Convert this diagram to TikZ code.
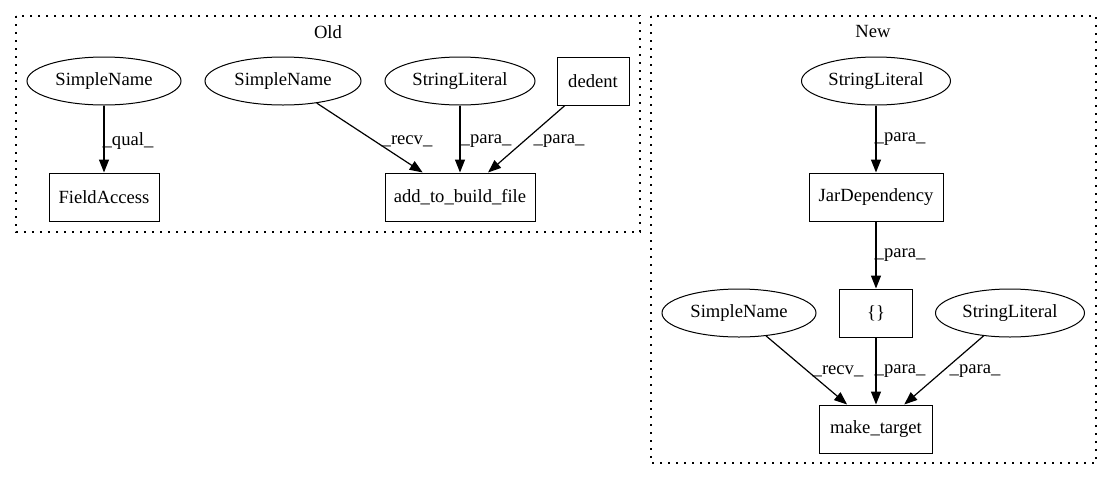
\documentclass[tikz,border=0pt]{standalone}
\usepackage{fontspec}
\setmainfont{Liberation Serif}
\usetikzlibrary{shapes.geometric,arrows.meta}
\begin{document}
\begin{tikzpicture}[x=1pt,y=-1pt,
  every node/.style={font=\fontsize{18.6}{22}\selectfont},
  ell/.style={ellipse,draw,line width=1pt,fill=white,minimum height=48pt,inner sep=0pt},
  box/.style={rectangle,draw,line width=1pt,fill=white,minimum height=48pt,inner sep=0pt},
  edge/.style={draw,line width=1.2pt,-{Triangle[length=13pt,width=10pt]}},
  lbl/.style={inner sep=0pt},
  cluster/.style={draw,line width=1.1pt,dash pattern=on 1.6pt off 6.4pt},
  ttl/.style={inner sep=0pt}]
\useasboundingbox (0,0) rectangle (1112,480);
% clusters
\draw[cluster] (16,16) rectangle (640,232);
\node[ttl] (oldt) at (328,32) {Old};
\draw[cluster] (651,16) rectangle (1096,463);
\node[ttl] (newt) at (873,31) {New};
% Old nodes
\node[ell,minimum width=154pt] (sn1) at (104,81) {SimpleName};
\node[box,minimum width=110pt] (fa) at (104,197) {FieldAccess};
\node[ell,minimum width=156pt] (sn2) at (283,81) {SimpleName};
\node[ell,minimum width=150pt] (sl1) at (460,81) {StringLiteral};
\node[box,minimum width=72pt] (ded) at (593,81) {dedent};
\node[box,minimum width=150pt] (atb) at (460,197) {add\_to\_build\_file};
% New nodes
\node[ell,minimum width=149pt] (sl2) at (876,81) {StringLiteral};
\node[box,minimum width=134pt] (jar) at (876,197) {JarDependency};
\node[box,minimum width=73pt] (br) at (876,313) {\{\}};
\node[ell,minimum width=154pt] (sn3) at (739,313) {SimpleName};
\node[ell,minimum width=149pt] (sl3) at (1010,313) {StringLiteral};
\node[box,minimum width=113pt] (mt) at (876,429) {make\_target};
% Old edges
\draw[edge] (sn1) -- (fa);
\draw[edge] (sn2) -- (atb);
\draw[edge] (sl1) -- (atb);
\draw[edge] (ded) -- (atb);
\node[lbl] (l1) at (128,141) {\_qual\_};
\node[lbl] (l2) at (407,141) {\_recv\_};
\node[lbl] (l3) at (486,141) {\_para\_};
\node[lbl] (l4) at (559,141) {\_para\_};
% New edges
\draw[edge] (sl2) -- (jar);
\draw[edge] (jar) -- (br);
\draw[edge] (sn3) -- (mt);
\draw[edge] (br) -- (mt);
\draw[edge] (sl3) -- (mt);
\node[lbl] (l5) at (900,139) {\_para\_};
\node[lbl] (l6) at (900,255) {\_para\_};
\node[lbl] (l7) at (838,371) {\_recv\_};
\node[lbl] (l8) at (900,371) {\_para\_};
\node[lbl] (l9) at (975,371) {\_para\_};
\end{tikzpicture}
\end{document}
